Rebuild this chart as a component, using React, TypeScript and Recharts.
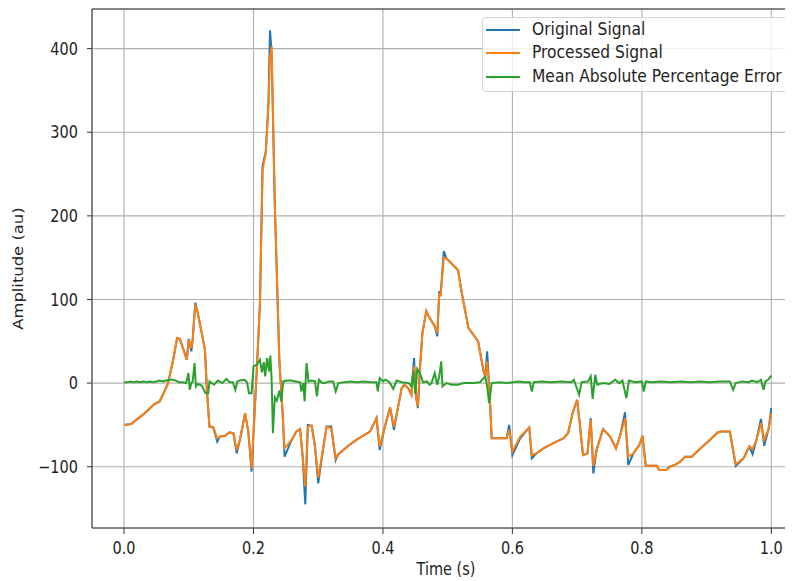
import React from 'react';
import { LineChart, Line, XAxis, YAxis, CartesianGrid, ReferenceLine, Label } from 'recharts';

// ---- data ----
const times = [
  0.000, 0.011, 0.019, 0.029, 0.040, 0.047, 0.055, 0.060, 0.068, 0.076,
  0.082, 0.086, 0.091, 0.097, 0.100, 0.104, 0.106, 0.110, 0.113, 0.120,
  0.125, 0.128, 0.132, 0.138, 0.144, 0.148, 0.156, 0.163, 0.169, 0.174,
  0.179, 0.187, 0.192, 0.197, 0.205, 0.210, 0.214, 0.219, 0.223, 0.2255,
  0.228, 0.233, 0.240, 0.245, 0.248, 0.259, 0.266, 0.272, 0.276, 0.280,
  0.284, 0.290, 0.295, 0.300, 0.308, 0.313, 0.320, 0.327, 0.331, 0.339,
  0.348, 0.359, 0.369, 0.380, 0.390, 0.395, 0.403, 0.411, 0.417, 0.423,
  0.429, 0.433, 0.439, 0.444, 0.448, 0.451, 0.454, 0.457, 0.461, 0.467,
  0.472, 0.480, 0.484, 0.487, 0.489, 0.494, 0.498, 0.506, 0.516, 0.521,
  0.532, 0.547, 0.555, 0.558, 0.561, 0.565, 0.568, 0.591, 0.595, 0.600,
  0.612, 0.626, 0.630, 0.637, 0.648, 0.658, 0.668, 0.679, 0.686, 0.693,
  0.700, 0.704, 0.709, 0.716, 0.721, 0.725, 0.730, 0.740, 0.751, 0.760,
  0.766, 0.774, 0.779, 0.787, 0.796, 0.801, 0.806, 0.823, 0.827, 0.838,
  0.843, 0.851, 0.859, 0.867, 0.877, 0.885, 0.895, 0.905, 0.917, 0.923,
  0.936, 0.945, 0.957, 0.966, 0.971, 0.977, 0.984, 0.989, 0.996, 1.000,
];

const original = [
  -50, -49, -44, -38, -30, -25, -22, -14, 0, 28,
  54, 53, 42, 28, 53, 38, 52, 96, 87, 60,
  40, -8, -52, -53, -70, -64, -63, -59, -60, -84,
  -68, -36, -58, -106, 14, 96, 260, 277, 334, 422,
  395, 211, 26, -36, -88, -68, -58, -55, -88, -145,
  -50, -51, -76, -120, -76, -52, -52, -92, -85, -80,
  -74, -68, -63, -58, -42, -80, -52, -29, -56, -30,
  -6, -2, -6, -14, 30, -16, -30, 16, 60, 86,
  78, 68, 56, 110, 104, 158, 149, 143, 135, 111,
  66, 50, 16, 8, 38, -16, -66, -66, -50, -86,
  -66, -53, -90, -84, -78, -74, -70, -66, -60, -36,
  -20, -48, -86, -84, -42, -108, -80, -55, -64, -78,
  -64, -35, -98, -84, -74, -63, -99, -99, -104, -104,
  -100, -98, -94, -88, -88, -82, -75, -68, -59, -58,
  -58, -99, -90, -76, -85, -68, -43, -75, -54, -30,
];

const processed = [
  -50, -49, -44, -38, -30, -25, -22, -14, 0, 28,
  54, 53, 42, 28, 52, 42, 52, 92, 87, 60,
  40, -8, -52, -53, -66, -64, -63, -59, -60, -80,
  -68, -36, -58, -102, 14, 96, 255, 275, 330, 390,
  403, 211, 26, -36, -78, -68, -58, -55, -88, -124,
  -52, -51, -76, -113, -76, -52, -54, -90, -85, -80,
  -74, -68, -63, -58, -42, -76, -52, -29, -52, -30,
  -6, -2, -6, -14, 20, -16, -28, 16, 60, 86,
  78, 68, 60, 108, 104, 150, 149, 143, 135, 111,
  66, 50, 16, 8, 26, -16, -66, -66, -56, -82,
  -64, -53, -86, -84, -78, -74, -70, -66, -60, -36,
  -20, -48, -86, -84, -44, -99, -80, -55, -64, -78,
  -64, -42, -88, -84, -74, -63, -99, -99, -104, -104,
  -100, -98, -94, -88, -88, -82, -75, -68, -59, -58,
  -58, -97, -90, -76, -79, -68, -48, -68, -54, -36,
];

// [time, error] pairs
const errorPoints: [number, number][] = [
  [0.000, 1], [0.005, 1], [0.010, 2], [0.015, 1], [0.020, 2], [0.025, 1], [0.030, 2], [0.035, 1],
  [0.040, 2], [0.045, 1], [0.050, 2], [0.055, 3], [0.060, 2], [0.065, 3], [0.070, 4], [0.075, 4],
  [0.080, 3], [0.085, 1], [0.090, 1], [0.096, 0], [0.0995, 12], [0.1015, -8], [0.104, 0], [0.106, 2],
  [0.109, 24], [0.111, -4], [0.114, -1], [0.120, -3], [0.126, -12], [0.130, -12], [0.132, 2], [0.139, -2],
  [0.145, 3], [0.152, 0], [0.158, 5], [0.163, 1], [0.168, 1], [0.172, -8], [0.175, 2], [0.179, 3],
  [0.186, 4], [0.190, 1], [0.193, -12], [0.197, -12], [0.200, 20], [0.205, 22], [0.210, 28], [0.213, 13],
  [0.216, 25], [0.218, 8], [0.221, 30], [0.224, 14], [0.226, 33], [0.228, 5], [0.230, -60], [0.233, -17],
  [0.236, -21], [0.240, -9], [0.243, -22], [0.246, 2], [0.252, 3], [0.258, 3], [0.265, 2], [0.272, 1],
  [0.274, -10], [0.277, 0], [0.279, -22], [0.282, 24], [0.285, 2], [0.290, 3], [0.295, 2], [0.298, -16],
  [0.301, 4], [0.305, 1], [0.309, 0], [0.317, 2], [0.323, 2], [0.327, -10], [0.331, 0], [0.340, 1],
  [0.350, 2], [0.360, 1], [0.370, 2], [0.380, 1], [0.390, 1], [0.392, -10], [0.395, 6], [0.400, 2],
  [0.404, 4], [0.410, 1], [0.416, -7], [0.421, 3], [0.429, 1], [0.440, 0], [0.444, -4], [0.447, 14],
  [0.450, -13], [0.453, 17], [0.457, 12], [0.462, 1], [0.468, 2], [0.472, -2], [0.475, 0], [0.480, 12],
  [0.484, -2], [0.487, 8], [0.490, 26], [0.492, -4], [0.498, 0], [0.506, -2], [0.516, -2], [0.525, 0],
  [0.540, 0], [0.550, 1], [0.558, 8], [0.561, -4], [0.564, -24], [0.568, 0], [0.580, 1], [0.591, 0],
  [0.600, 1], [0.610, 2], [0.620, 1], [0.627, 1], [0.630, -10], [0.633, 1], [0.645, 2], [0.660, 1],
  [0.675, 2], [0.691, 1], [0.695, 4], [0.703, -14], [0.707, 1], [0.717, 2], [0.721, 8], [0.724, -19],
  [0.728, 10], [0.731, -2], [0.740, 0], [0.750, -1], [0.759, 4], [0.765, 0], [0.770, 3], [0.776, -18],
  [0.780, 3], [0.790, 1], [0.800, 2], [0.803, -10], [0.806, 2], [0.815, 1], [0.830, 2], [0.845, 1],
  [0.860, 2], [0.875, 1], [0.890, 2], [0.905, 1], [0.920, 2], [0.936, 2], [0.941, -8], [0.945, 0],
  [0.955, 2], [0.965, 1], [0.970, 3], [0.978, 1], [0.984, 4], [0.988, -8], [0.991, 2], [0.995, 4],
  [1.000, 9],
];

const xTicks = [0, 0.2, 0.4, 0.6, 0.8, 1.0];
const yTicks = [-100, 0, 100, 200, 300, 400];
const seriesNames = ['Original Signal', 'Processed Signal', 'Mean Absolute Percentage Error'];
const seriesColors = ['#1f77b4', '#ff7f0e', '#2ca02c'];
const xLabel = 'Time (s)';
const yLabel = 'Amplitude (au)';

// ---- build ----
const n = Math.min(times.length, original.length, processed.length);
const origData = times.slice(0, n).map((t, i) => ({ t, v: original[i] }));
const procData = times.slice(0, n).map((t, i) => ({ t, v: processed[i] }));
const errData = errorPoints.map(([t, v]) => ({ t, v }));

const W = 785;
const H = 573;
const X_DOMAIN: [number, number] = [-0.0495, 1.0335];
const Y_DOMAIN: [number, number] = [-173.3, 447.4];
const FONT = '"DejaVu Sans", sans-serif';
const TEXT = '#1e1e1e';
const SPINE = '#333333';
const STRETCH = 1.2;

const fmtX = (v: number) => v.toFixed(1);
const fmtY = (v: number) => (v < 0 ? '\u2212' + Math.abs(v) : String(v));

const XTick = (props: any) => {
  const { x, y, payload } = props;
  return (
    <g transform={`translate(${x},${y}) scale(1,${STRETCH})`}>
      <text x={0} y={0} dy="0.71em" textAnchor="middle" fontSize={14.5} fontFamily={FONT} fill={TEXT}>
        {fmtX(payload.value)}
      </text>
    </g>
  );
};

const YTick = (props: any) => {
  const { x, y, payload } = props;
  return (
    <g transform={`translate(${x},${y}) scale(1,${STRETCH})`}>
      <text x={0} y={0} dy="0.355em" textAnchor="end" fontSize={14.5} fontFamily={FONT} fill={TEXT}>
        {fmtY(payload.value)}
      </text>
    </g>
  );
};

const XLabelContent = () => (
  <g transform={`translate(438,567) scale(1,${STRETCH})`}>
    <text x={0} y={0} textAnchor="middle" fontSize={14.5} fontFamily={FONT} fill={TEXT}>
      {xLabel}
    </text>
  </g>
);

const YLabelContent = () => (
  <g transform={`translate(14.7,260.6) rotate(-90) scale(1.13,1)`}>
    <text x={0} y={0} textAnchor="middle" fontSize={14.5} fontFamily={FONT} fill={TEXT}>
      {yLabel}
    </text>
  </g>
);

const rowTops = [12, 34.7, 58.7];

export default function App() {
  return (
    <div style={{ position: 'relative', width: W, height: H }}>
      <LineChart width={W} height={H} margin={{ top: 1, right: 0, bottom: 0, left: 0 }}>
        <CartesianGrid stroke="#b0b0b0" strokeWidth={1.1} />
        <XAxis
          dataKey="t"
          type="number"
          domain={X_DOMAIN}
          allowDataOverflow
          ticks={xTicks}
          interval={0}
          height={53}
          tickSize={6}
          tickMargin={8}
          tick={<XTick />}
          axisLine={{ stroke: SPINE, strokeWidth: 1 }}
          tickLine={{ stroke: SPINE, strokeWidth: 1 }}
        >
          <Label content={<XLabelContent />} />
        </XAxis>
        <YAxis
          type="number"
          domain={Y_DOMAIN}
          allowDataOverflow
          ticks={yTicks}
          interval={0}
          width={84}
          tickSize={5}
          tickMargin={9}
          tick={<YTick />}
          axisLine={{ stroke: SPINE, strokeWidth: 1 }}
          tickLine={{ stroke: SPINE, strokeWidth: 1 }}
        >
          <Label content={<YLabelContent />} />
        </YAxis>
        <ReferenceLine y={Y_DOMAIN[1]} stroke={SPINE} strokeWidth={1} ifOverflow="visible" />
        <Line data={origData} dataKey="v" name={seriesNames[0]} stroke={seriesColors[0]} strokeWidth={2} dot={false} type="linear" isAnimationActive={false} />
        <Line data={procData} dataKey="v" name={seriesNames[1]} stroke={seriesColors[1]} strokeWidth={2} dot={false} type="linear" isAnimationActive={false} />
        <Line data={errData} dataKey="v" name={seriesNames[2]} stroke={seriesColors[2]} strokeWidth={2} dot={false} type="linear" isAnimationActive={false} />
      </LineChart>
      <div
        style={{
          position: 'absolute',
          left: 474,
          top: 9,
          width: 311,
          height: 75,
          boxSizing: 'border-box',
          border: '1px solid #d4d4d4',
          borderRadius: 4,
          background: 'rgba(255,255,255,0.8)',
        }}
      >
        {seriesNames.map((name, i) => (
          <div key={name} style={{ position: 'absolute', left: 0, top: rowTops[i], width: '100%', height: 0 }}>
            <div style={{ position: 'absolute', left: 3, top: -1, width: 34, height: 2, background: seriesColors[i] }} />
            <div
              style={{
                position: 'absolute',
                left: 49,
                top: 0,
                transform: `translateY(-50%) scaleY(1.15)`,
                fontSize: 15.5,
                fontFamily: FONT,
                color: TEXT,
                whiteSpace: 'nowrap',
                lineHeight: 1,
              }}
            >
              {name}
            </div>
          </div>
        ))}
      </div>
    </div>
  );
}
